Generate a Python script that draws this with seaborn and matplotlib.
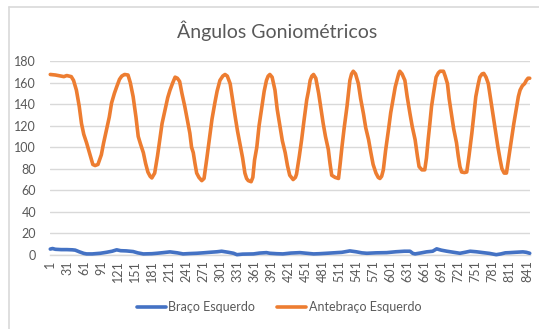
import matplotlib
matplotlib.use("Agg")
import matplotlib.pyplot as plt
from matplotlib.lines import Line2D
import pandas as pd
import seaborn as sns

# Sample index / angle (degrees) readings for each segment
forearm_idx = [1, 10, 20, 25, 30, 38, 42, 47, 52, 56, 60, 65, 70, 76, 80, 85, 91, 95, 100, 105,
               109, 114, 118, 123, 127, 132, 138, 142, 147, 152, 156, 160, 165, 169, 173, 177, 180, 185, 190, 194,
               198, 203, 208, 212, 217, 221, 225, 229, 233, 238, 243, 247, 250, 253, 256, 259, 263, 268, 272, 277,
               282, 286, 291, 295, 300, 305, 309, 313, 318, 322, 327, 331, 335, 340, 344, 347, 350, 355, 358, 361,
               365, 369, 374, 378, 382, 385, 388, 392, 397, 401, 406, 410, 415, 419, 423, 429, 433, 435, 440, 444,
               448, 453, 456, 459, 462, 465, 469, 474, 478, 482, 486, 491, 494, 497, 503, 509, 512, 515, 519, 524,
               527, 529, 532, 535, 539, 544, 548, 553, 557, 562, 566, 570, 575, 579, 582, 585, 588, 592, 597, 601,
               606, 609, 612, 615, 617, 621, 626, 630, 635, 639, 644, 648, 651, 656, 661, 664, 667, 670, 673, 677,
               681, 685, 688, 694, 697, 701, 704, 708, 712, 717, 720, 723, 726, 731, 735, 739, 744, 748, 751, 755,
               758, 762, 765, 769, 773, 777, 782, 786, 790, 794, 797, 801, 805, 809, 814, 818, 823, 826, 829, 833,
               837, 840, 843, 846]
forearm_deg = [167.5, 167, 166, 165.5, 166.5, 165.5, 162, 153, 138, 122, 112, 104, 95, 84, 83, 84, 93, 104, 116, 128,
               141, 150, 156, 163, 166, 167.5, 167, 160, 147, 128, 110, 103, 95, 85, 77, 73, 71.5, 76, 92, 107,
               122, 134, 146, 153, 160, 165, 164, 161, 150, 138, 124, 113, 100, 95, 85, 76, 72, 69, 71, 90,
               110, 126, 141, 152, 162, 166, 167.5, 166, 159, 145, 128, 115, 104, 90, 76, 71, 69, 68, 72, 88,
               100, 120, 138, 152, 162, 166, 167.5, 165, 153, 135, 119, 106, 95, 83, 74, 70, 72, 75, 92, 107,
               124, 144, 152, 162, 166, 167.5, 164, 150, 136, 122, 110, 98, 85, 74, 72, 71, 85, 100, 118, 138,
               152, 162, 168, 170.5, 168, 159, 145, 131, 118, 107, 95, 84, 76, 72, 71, 73, 79, 97, 116, 132,
               147, 156, 162, 168, 170.5, 168, 162, 147, 131, 119, 107, 92, 82, 79, 79, 90, 107, 122, 138, 152,
               165, 169, 170.5, 170.5, 166, 159, 145, 131, 117, 104, 92, 82, 77, 76.5, 77, 92, 113, 132, 147, 158,
               165, 168, 168.5, 165, 159, 145, 128, 114, 100, 88, 80, 76, 76, 90, 107, 122, 138, 147, 153, 157,
               159, 162, 164, 164]

arm_idx = [1, 5, 10, 20, 30, 40, 45, 52, 60, 65, 75, 89, 100, 110, 118, 125, 135, 147, 155, 165,
           180, 189, 200, 212, 225, 235, 245, 259, 270, 282, 295, 303, 315, 324, 330, 340, 359, 370, 382, 388,
           400, 411, 425, 441, 455, 465, 475, 488, 500, 515, 529, 540, 550, 559, 575, 594, 610, 625, 635, 640,
           644, 655, 664, 675, 682, 690, 700, 712, 723, 732, 741, 752, 764, 775, 787, 795, 803, 811, 820, 834,
           840, 846]
arm_deg = [5.5, 6, 5.3, 5, 5, 4.8, 4.5, 3, 1.5, 1, 1, 1.6, 2.5, 3.5, 4.8, 4, 3.8, 3.2, 2, 1,
           1.2, 1.6, 2.2, 2.9, 2, 1, 1.3, 1.6, 2, 2.5, 3, 3.5, 2.5, 1.6, 0.3, 0.8, 1, 1.8, 2.2, 1.6,
           1.2, 1, 1.8, 2.2, 1.5, 1, 1.2, 1.6, 2, 2.5, 3.8, 3, 2, 1.6, 2, 2.2, 3, 3.5, 3.5, 1.5,
           1, 2, 2.9, 3.5, 5.7, 4.5, 3.5, 2.5, 1.6, 2.5, 3.5, 3, 2.2, 1.5, 0.3, 1, 2, 2.2, 2.5, 2.9,
           2.5, 1.6]

series_names = ["Braço Esquerdo", "Antebraço Esquerdo"]
series_colors = ["#4472C4", "#ED7D31"]
title = "Ângulos Goniométricos"
n_samples = 846
tick_labels = list(range(1, 842, 30))
y_ticks = list(range(0, 181, 20))

sns.set_theme(style="white")
plt.rcParams["font.family"] = ["Lato", "DejaVu Sans"]

text_gray = "#595959"
grid_gray = "#D9D9D9"

fig = plt.figure(figsize=(5.39, 3.29), dpi=100)
ax = fig.add_axes([50 / 539, 74 / 329, 480 / 539, 194 / 329])

arm_df = pd.DataFrame({"amostra": arm_idx, "angulo": arm_deg})
forearm_df = pd.DataFrame({"amostra": forearm_idx, "angulo": forearm_deg})

sns.lineplot(data=arm_df, x="amostra", y="angulo", ax=ax, color=series_colors[0],
             linewidth=2.6, clip_on=False, zorder=3)
sns.lineplot(data=forearm_df, x="amostra", y="angulo", ax=ax, color=series_colors[1],
             linewidth=2.6, clip_on=False, zorder=4)

ax.set_xlim(0.5, n_samples + 0.5)
ax.set_ylim(0, 180)
ax.set_xticks(tick_labels)
ax.set_xticklabels([str(t) for t in tick_labels], rotation=90, fontsize=9, color=text_gray)
ax.set_yticks(y_ticks)
ax.set_yticklabels([str(t) for t in y_ticks], fontsize=9, color=text_gray)
ax.tick_params(axis="x", length=0, pad=4)
ax.tick_params(axis="y", length=0, pad=10)
ax.set_xlabel("")
ax.set_ylabel("")

ax.yaxis.grid(True, color=grid_gray, linewidth=1)
ax.xaxis.grid(False)
for side in ["left", "right", "top"]:
    ax.spines[side].set_visible(False)
ax.spines["bottom"].set_color(grid_gray)
ax.spines["bottom"].set_linewidth(1)

fig.text(277 / 539, 1 - 31 / 329, title, ha="center", va="center",
         fontsize=14, color=text_gray)

handles = [Line2D([0], [0], color=c, linewidth=2.6) for c in series_colors]
fig.legend(handles, series_names, loc="center", bbox_to_anchor=(279 / 539, 1 - 307 / 329),
           ncol=2, frameon=False, fontsize=9, handlelength=2.3, handletextpad=0.2,
           columnspacing=1.8, labelcolor=text_gray)

# chart area frame (left and top edges)
fig.add_artist(Line2D([8.5 / 539, 8.5 / 539], [0, 1 - 6.5 / 329], transform=fig.transFigure,
                      color=grid_gray, linewidth=1.2))
fig.add_artist(Line2D([8.5 / 539, 1], [1 - 6.5 / 329, 1 - 6.5 / 329], transform=fig.transFigure,
                      color=grid_gray, linewidth=1.2))

fig.savefig("out.png", dpi=100, facecolor="white")
